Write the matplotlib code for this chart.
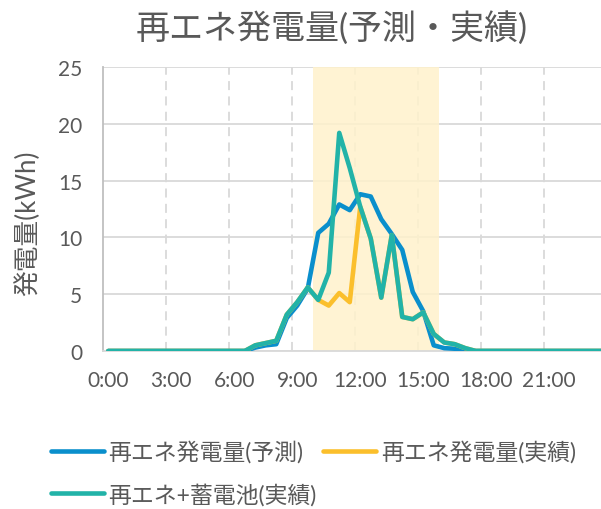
import matplotlib
matplotlib.use('Agg')
import matplotlib.pyplot as plt
import numpy as np

plt.rcParams['font.family'] = ['Lato', 'Noto Sans CJK JP', 'DejaVu Sans']

# data: 48 half-hour slots (values in kWh)
title = '再エネ発電量(予測・実績)'
ylabel = '発電量(kWh)'
tick_labels = ['0:00', '3:00', '6:00', '9:00', '12:00', '15:00', '18:00', '21:00']
names = ['再エネ発電量(予測)', '再エネ発電量(実績)', '再エネ+蓄電池(実績)']

forecast = [0] * 14 + [0.3, 0.5, 0.6, 2.9, 4.0, 5.5, 10.4, 11.2, 12.9, 12.4, 13.8, 13.6,
                       11.6, 10.3, 8.9, 5.2, 3.5, 0.5, 0.25, 0.2, 0.05] + [0] * 13
actual = [0] * 14 + [0.5, 0.7, 0.9, 3.2, 4.3, 5.6, 4.5, 4.0, 5.1, 4.3, 12.7, 9.9,
                     4.7, 10.2, 3.0, 2.8, 3.4, 1.5, 0.75, 0.6, 0.25] + [0] * 13
battery = [0] * 14 + [0.5, 0.7, 0.9, 3.2, 4.3, 5.6, 4.5, 6.9, 19.2, 16.1, 12.7, 9.9,
                      4.7, 10.2, 3.0, 2.8, 3.4, 1.5, 0.75, 0.6, 0.25] + [0] * 13
shade_start, shade_end = 10, 16  # hours

colors = ['#0A8FCC', '#FBBF2C', '#22B3A8']
gray = '#595959'

t = 0.25 + 0.5 * np.arange(len(forecast))  # centre of each half-hour slot

fig = plt.figure(figsize=(6.01, 5.10), dpi=100)
ax = fig.add_axes([103 / 601, 1 - 352 / 510, 504 / 601, 284 / 510])

ax.set_xlim(0, 24)
ax.set_ylim(0, 25)

# shaded window
ax.axvspan(shade_start, shade_end, color='#FFF2CC', alpha=0.85, zorder=1.5, lw=0)

# grid
ax.set_yticks(np.arange(0, 26, 5))
ax.yaxis.grid(True, color='#d9d9d9', lw=1.3, zorder=1)
for h in range(3, 24, 3):
    ax.axvline(h, color='#d9d9d9', lw=1.3, ls=(0, (5, 3.5)), zorder=1)
ax.set_axisbelow(True)

lines = []
for y, c, n in zip([forecast, actual, battery], colors, names):
    l, = ax.plot(t, y, color=c, lw=3.3, label=n, zorder=3,
                 solid_capstyle='round', solid_joinstyle='round')
    lines.append(l)

for s in ['top', 'right']:
    ax.spines[s].set_visible(False)
ax.spines['left'].set_color('#bfbfbf')
ax.spines['left'].set_linewidth(1.3)
ax.spines['bottom'].set_color('#d9d9d9')
ax.spines['bottom'].set_linewidth(1.3)

ax.set_xticks(t[::6])
ax.set_xticklabels(tick_labels)
ax.tick_params(axis='y', length=0, pad=15, labelsize=15, labelcolor=gray)
ax.tick_params(axis='x', length=0, pad=14, labelsize=15, labelcolor=gray)

fig.text(332 / 601, 1 - 28 / 510, title, ha='center', va='center', fontsize=24.5, color=gray)
fig.text(27 / 601, 1 - 223 / 510, ylabel, ha='center', va='center', rotation=90,
         fontsize=18.5, color=gray)

leg = fig.legend([lines[0], lines[2], lines[1]], [names[0], names[2], names[1]],
                 ncol=2, loc='upper left', bbox_to_anchor=(51 / 601, 1 - 441 / 510),
                 frameon=False, fontsize=16.5, handlelength=2.3, handletextpad=0.2,
                 columnspacing=0.3, labelspacing=0.85, borderpad=0, borderaxespad=0)
for txt in leg.get_texts():
    txt.set_color(gray)

fig.savefig('out.png', dpi=100)
